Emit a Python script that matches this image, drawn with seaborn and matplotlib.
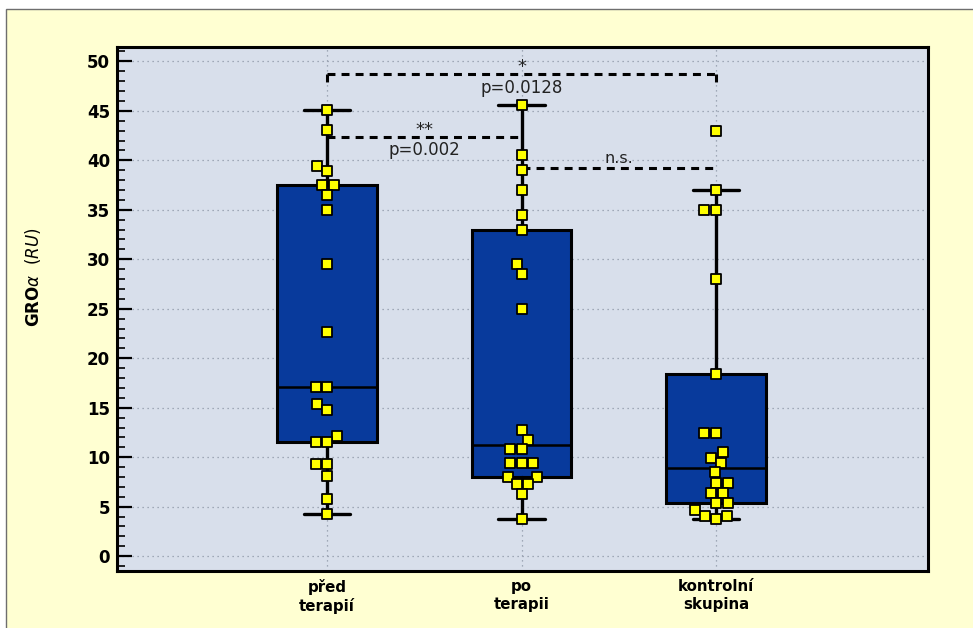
import numpy as np
import pandas as pd
import matplotlib
matplotlib.use('Agg')
import matplotlib.pyplot as plt
from matplotlib.patches import Rectangle
from matplotlib.ticker import MultipleLocator
import seaborn as sns

# Hodnoty GRO-alfa
skupiny = ['před\nterapií', 'po\nterapii', 'kontrolní\nskupina']
pred_terapii = [45.1, 43.1, 39.4, 38.9, 37.5, 37.5, 36.5, 35.0, 29.5, 22.7, 17.1,
                17.1, 15.4, 14.8, 12.1, 11.5, 11.5, 9.3, 9.3, 8.1, 5.8, 4.3]
po_terapii = [45.6, 40.5, 39.0, 37.0, 34.5, 33.0, 29.5, 28.5, 25.0, 12.7, 11.7,
              10.8, 10.8, 9.4, 9.4, 9.4, 8.0, 8.0, 7.3, 7.3, 6.3, 3.8]
kontrolni = [43.0, 37.0, 35.0, 35.0, 28.0, 18.4, 12.4, 12.4, 10.5, 9.9, 9.4,
             8.5, 7.4, 7.4, 6.4, 6.4, 5.4, 5.4, 4.7, 4.1, 4.1, 3.8]

# Srovnání skupin (od, do, výška čáry, hvězdičky, p)
srov_od = [0, 0, 1]
srov_do = [2, 1, 2]
srov_y = [48.7, 42.4, 39.2]
srov_hvezdy = ['*', '**', 'n.s.']
srov_p = ['p=0.0128', 'p=0.002', '']

df = pd.DataFrame({
    'skupina': np.repeat(skupiny, [len(pred_terapii), len(po_terapii), len(kontrolni)]),
    'hodnota': pred_terapii + po_terapii + kontrolni,
})


def box_stats(values):
    # Tukeyho panty (medián dolní/horní poloviny), vousy 1.5 IQR
    v = np.sort(np.asarray(values, dtype=float))
    n = len(v)
    q1 = np.median(v[:(n + 1) // 2])
    q3 = np.median(v[n // 2:])
    iqr = q3 - q1
    return dict(med=np.median(v), q1=q1, q3=q3,
                whislo=v[v >= q1 - 1.5 * iqr].min(),
                whishi=v[v <= q3 + 1.5 * iqr].max(), fliers=[])


sns.set_theme(style='ticks')
plt.rcParams['font.family'] = ['DejaVu Sans']
plt.rcParams['mathtext.fontset'] = 'dejavusans'
plt.rcParams['text.color'] = 'black'
plt.rcParams['axes.labelcolor'] = 'black'
plt.rcParams['xtick.color'] = 'black'
plt.rcParams['ytick.color'] = 'black'

W, H = 973, 628
fig = plt.figure(figsize=(W / 100, H / 100), dpi=100, facecolor='white')
bg = Rectangle((6 / W, -0.05), 1.2, 1 - 9 / H + 0.05, transform=fig.transFigure,
               facecolor='#FFFFD2', edgecolor='#6e6e6e', linewidth=1.0, zorder=-10)
fig.add_artist(bg)

ax = fig.add_axes([117 / W, 1 - 571 / H, (928 - 117) / W, (571 - 47) / H])
ax.set_facecolor('#D8DFEB')

sns.swarmplot(data=df, x='skupina', y='hodnota', order=skupiny, marker='s', size=6.6,
              color='#FFFF00', edgecolor='black', linewidth=1.3, ax=ax, zorder=5)

stats = [box_stats(v) for v in (pred_terapii, po_terapii, kontrolni)]
ax.bxp(stats, positions=[0, 1, 2], widths=0.51, capwidths=0.24, patch_artist=True,
       showfliers=False, manage_ticks=False, zorder=2,
       boxprops=dict(facecolor='#083A9C', edgecolor='black', linewidth=2.2),
       medianprops=dict(color='black', linewidth=1.8),
       whiskerprops=dict(color='black', linewidth=2.4),
       capprops=dict(color='black', linewidth=2.4))

# Čáry srovnání
dash = (0, (2.6, 2.0))
for x1, x2, y, hv, p in zip(srov_od, srov_do, srov_y, srov_hvezdy, srov_p):
    ax.plot([x1, x2], [y, y], color='black', lw=2.2, linestyle=dash, zorder=4)
    xm = (x1 + x2) / 2
    if hv == 'n.s.':
        ax.text(xm, y + 1.0, hv, ha='center', va='center', fontsize=11.5,
                color='#222222', zorder=6)
    else:
        ax.text(xm, y + 0.7, hv, ha='center', va='center', fontsize=13,
                color='#222222', zorder=6)
    if p:
        ax.text(xm, y - 1.4, p, ha='center', va='center', fontsize=12,
                color='#222222', zorder=6)
# krátké svislé konce horní čáry
for x in (srov_od[0], srov_do[0]):
    ax.plot([x, x], [srov_y[0], srov_y[0] - 1.3], color='black', lw=2.2,
            linestyle=dash, zorder=4)

ax.set_xlim(-1.08, 3.09)
ax.set_ylim(-1.5, 51.45)
ax.yaxis.set_major_locator(MultipleLocator(5))
ax.yaxis.set_minor_locator(MultipleLocator(1))
ax.grid(True, which='major', axis='both', linestyle=(0, (1, 3)), color='#8d96a6', linewidth=0.9)
ax.set_axisbelow(True)

ax.tick_params(axis='y', which='major', direction='in', length=11, width=1.6,
               labelsize=12, pad=5, color='black', labelcolor='black')
ax.tick_params(axis='y', which='minor', direction='in', length=5.5, width=1.2, color='black')
ax.tick_params(axis='x', length=0, pad=6, labelsize=10.8, labelcolor='black')
plt.setp(ax.get_yticklabels(), fontweight='bold')
plt.setp(ax.get_xticklabels(), fontweight='bold', linespacing=1.2)

for s in ax.spines.values():
    s.set_linewidth(2.2)
    s.set_color('black')

ax.set_xlabel('')
ax.set_ylabel(r'$\mathbf{GRO}\alpha\ \ \mathit{(RU)}$', fontsize=12, color='black')
ax.yaxis.set_label_coords(-0.091, 0.561)

fig.savefig('out.png', dpi=100, facecolor=fig.get_facecolor())
